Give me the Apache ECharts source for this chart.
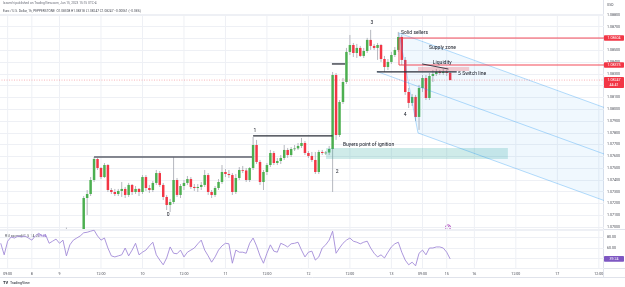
<!DOCTYPE html>
<html>
<head>
<meta charset="utf-8">
<title>EURUSD 1h</title>
<script src="https://cdn.jsdelivr.net/npm/echarts/dist/echarts.min.js"></script>
<style>
  html, body { margin: 0; padding: 0; background: #fff; }
  #chart { width: 625px; height: 287px; }
</style>
</head>
<body>
<div id="chart"></div>
<script>
// hour slots along the time scale (weekend gap removed, like TradingView)
const slotCount = 175;
const timeLabelSlots = [2, 9, 17, 29, 41, 53, 65, 77, 89, 101, 113, 122, 129, 137, 149, 161, 173];
const timeLabels = ['09:00', '8', '9', '12:00', '10', '12:00', '11', '12:00', '12', '12:00', '13', '09:00', '15', '16', '12:00', '17', '12:00'];

// EURUSD 1h candles; the first one sits in slot 19 (older bars are below the visible range)
const firstSlot = 19;
const opens = [
  1.06900, 1.06930, 1.06890, 1.06920, 1.06900,
  1.06932, 1.07246, 1.07280, 1.07399, 1.07577, 1.07501, 1.07424, 1.07526, 1.07314, 1.07297,
  1.07280, 1.07306, 1.07323, 1.07272, 1.07357, 1.07297, 1.07323, 1.07297, 1.07424, 1.07331,
  1.07314, 1.07374, 1.07458, 1.07357, 1.07255, 1.07187, 1.07212, 1.07399, 1.07272, 1.07348,
  1.07374, 1.07407, 1.07340, 1.07331, 1.07340, 1.07357, 1.07441, 1.07297, 1.07272, 1.07331,
  1.07382, 1.07467, 1.07450, 1.07441, 1.07297, 1.07416, 1.07484, 1.07480, 1.07399, 1.07501,
  1.07696, 1.07552, 1.07382, 1.07467, 1.07526, 1.07628, 1.07543, 1.07560, 1.07586, 1.07654,
  1.07611, 1.07662, 1.07667, 1.07688, 1.07713, 1.07628, 1.07603, 1.07569, 1.07467, 1.07637,
  1.07628, 1.07632, 1.07662, 1.08290, 1.07781, 1.08061, 1.08231, 1.08486, 1.08545, 1.08477,
  1.08520, 1.08452, 1.08494, 1.08588, 1.08537, 1.08520, 1.08545, 1.08426, 1.08358, 1.08401,
  1.08460, 1.08503, 1.08613, 1.08418, 1.08146, 1.08053, 1.08104, 1.07934, 1.08180, 1.08265,
  1.08095, 1.08282, 1.08299, 1.08316, 1.08307, 1.08316, 1.08308
];
const highs = [
  1.06995, 1.06950, 1.06940, 1.06960, 1.06960,
  1.07263, 1.07314, 1.07424, 1.07594, 1.07586, 1.07509, 1.07543, 1.07535, 1.07331, 1.07323,
  1.07323, 1.07382, 1.07340, 1.07374, 1.07365, 1.07348, 1.07331, 1.07441, 1.07441, 1.07357,
  1.07390, 1.07484, 1.07475, 1.07374, 1.07272, 1.07238, 1.07594, 1.07416, 1.07365, 1.07399,
  1.07433, 1.07424, 1.07365, 1.07365, 1.07382, 1.07484, 1.07458, 1.07314, 1.07348, 1.07407,
  1.07526, 1.07492, 1.07484, 1.07458, 1.07450, 1.07509, 1.07518, 1.07501, 1.07509, 1.07764,
  1.07739, 1.07569, 1.07484, 1.07543, 1.07654, 1.07645, 1.07586, 1.07611, 1.07696, 1.07671,
  1.07679, 1.07696, 1.07713, 1.07756, 1.07730, 1.07645, 1.07637, 1.07637, 1.07654, 1.07654,
  1.07645, 1.07688, 1.08316, 1.08307, 1.08078, 1.08265, 1.08520, 1.08630, 1.08562, 1.08554,
  1.08537, 1.08520, 1.08605, 1.08673, 1.08554, 1.08562, 1.08554, 1.08452, 1.08426, 1.08486,
  1.08528, 1.08656, 1.08630, 1.08443, 1.08180, 1.08129, 1.08121, 1.08206, 1.08290, 1.08290,
  1.08307, 1.08333, 1.08341, 1.08333, 1.08341, 1.08333, 1.08318
];
const lows = [
  1.06850, 1.06860, 1.06870, 1.06880, 1.06890,
  1.06900, 1.07102, 1.07263, 1.07382, 1.07484, 1.07407, 1.07416, 1.07297, 1.07280, 1.07263,
  1.07263, 1.07255, 1.07246, 1.07255, 1.07272, 1.07280, 1.07263, 1.07280, 1.07306, 1.07289,
  1.07297, 1.07357, 1.07340, 1.07229, 1.07144, 1.07127, 1.07195, 1.07255, 1.07246, 1.07314,
  1.07357, 1.07323, 1.07306, 1.07297, 1.07314, 1.07340, 1.07272, 1.07246, 1.07255, 1.07314,
  1.07365, 1.07424, 1.07416, 1.07272, 1.07280, 1.07399, 1.07458, 1.07382, 1.07382, 1.07484,
  1.07535, 1.07357, 1.07314, 1.07441, 1.07509, 1.07526, 1.07526, 1.07535, 1.07569, 1.07586,
  1.07594, 1.07645, 1.07654, 1.07671, 1.07611, 1.07586, 1.07552, 1.07450, 1.07450, 1.07611,
  1.07611, 1.07611, 1.07297, 1.07739, 1.07764, 1.08044, 1.08214, 1.08460, 1.08443, 1.08435,
  1.08443, 1.08435, 1.08477, 1.08503, 1.08503, 1.08418, 1.08401, 1.08316, 1.08333, 1.08384,
  1.08443, 1.08486, 1.08375, 1.08121, 1.08010, 1.08027, 1.07900, 1.07824, 1.08146, 1.08078,
  1.08078, 1.08231, 1.08282, 1.08290, 1.08290, 1.08282, 1.08247
];
const closes = [
  1.06930, 1.06890, 1.06920, 1.06900, 1.06932,
  1.07246, 1.07280, 1.07399, 1.07577, 1.07501, 1.07424, 1.07526, 1.07314, 1.07297, 1.07280,
  1.07306, 1.07323, 1.07272, 1.07357, 1.07297, 1.07323, 1.07297, 1.07424, 1.07331, 1.07314,
  1.07374, 1.07458, 1.07357, 1.07255, 1.07187, 1.07212, 1.07399, 1.07272, 1.07348, 1.07374,
  1.07407, 1.07340, 1.07331, 1.07340, 1.07357, 1.07441, 1.07297, 1.07272, 1.07331, 1.07382,
  1.07467, 1.07450, 1.07441, 1.07297, 1.07416, 1.07484, 1.07480, 1.07399, 1.07501, 1.07696,
  1.07552, 1.07382, 1.07467, 1.07526, 1.07628, 1.07543, 1.07560, 1.07586, 1.07654, 1.07611,
  1.07662, 1.07667, 1.07688, 1.07713, 1.07628, 1.07603, 1.07569, 1.07467, 1.07637, 1.07628,
  1.07632, 1.07662, 1.08290, 1.07781, 1.08061, 1.08231, 1.08486, 1.08545, 1.08477, 1.08520,
  1.08452, 1.08494, 1.08588, 1.08537, 1.08520, 1.08545, 1.08426, 1.08358, 1.08401, 1.08460,
  1.08503, 1.08613, 1.08418, 1.08146, 1.08053, 1.08104, 1.07934, 1.08180, 1.08265, 1.08095,
  1.08282, 1.08299, 1.08316, 1.08307, 1.08316, 1.08308, 1.08247
];

// RSI, one value per slot starting at slot 0
const rsi = [
  69, 47, 73, 81, 79, 83, 81, 83, 79, 75,
  83, 88, 83, 85, 69, 73, 77, 69, 75, 45,
  66, 75, 79, 83, 89, 90, 92, 94, 83, 75,
  79, 60, 45, 43, 45, 47, 60, 45, 56, 69,
  47, 52, 56, 64, 71, 47, 37, 28, 41, 62,
  50, 49, 56, 43, 52, 56, 60, 68, 75, 56,
  45, 33, 43, 56, 64, 69, 68, 31, 56, 52,
  52, 50, 69, 79, 64, 45, 31, 50, 66, 54,
  52, 69, 66, 62, 68, 69, 71, 56, 43, 52,
  54, 37, 43, 60, 66, 75, 92, 50, 60, 69,
  75, 79, 73, 71, 68, 71, 73, 60, 50, 43,
  47, 41, 52, 62, 68, 71, 52, 37, 28, 33,
  26, 50, 56, 47, 60, 60, 62, 62, 60, 52,
  39.24
];

// drawings on the chart, anchored in (hour slot, price)
const levelLines = [[27, 72.7, 1.07594], [73, 96, 1.07773], [95.8, 99.6, 1.08384], [108.8, 131.9, 1.08316]];
const liquidityLine = [[121.9, 1.08384], [129.5, 1.08341]];
const liquidityBox = [[120.7, 1.08358], [135.5, 1.08324]];
const supplyZone = [115.2, 1.08604, 1.08375];
const ignitionBox = [[94.1, 1.07671], [146.7, 1.07577]];
const pitchfork = [[108.8, 1.0832], [115.2, 1.08647], [120.7, 1.07798]];
const notes = [
  ['0', 48.4, 1.07102, 'center'],
  ['1', 73.5, 1.07815, 'center'],
  ['2', 97.3, 1.07467, 'center'],
  ['3', 107.4, 1.08732, 'center'],
  ['4', 117.0, 1.07951, 'center'],
  ['5 Switch line', 132.3, 1.08299, 'left'],
  ['Solid sellers', 115.8, 1.08647, 'left'],
  ['Supply zone', 123.9, 1.08520, 'left'],
  ['Liquidity', 125.0, 1.08392, 'left'],
  ['Buyers point of ignition', 99.0, 1.07696, 'left']
];

// visible ranges of the two panes
const priceMin = 1.06983, priceMax = 1.08808;
const rsiMin = 21.9, rsiMax = 94.3;

const FONT = 'Roboto, "Liberation Sans", sans-serif';
const UP = '#4caf50', DOWN = '#f23645';

const candleRows = opens.map((o, k) => [firstSlot + k, o, closes[k], lows[k], highs[k]]);
const slotKeys = Array.from({ length: slotCount }, (_, i) => String(i));
const labelBySlot = new Map(timeLabelSlots.map((s, k) => [s, timeLabels[k]]));
const edgeSlot = slotCount - 0.5;

function txt(x, y, text, fill, size, align, extra) {
  return Object.assign({
    type: 'text', x, y,
    style: { text, fill, fontSize: size, fontFamily: FONT, align, textAlign: align, verticalAlign: 'middle', textVerticalAlign: 'middle' }
  }, extra || {});
}

function renderCandle(params, api) {
  const cs = params.coordSys;
  const slot = api.value(0), o = api.value(1), c = api.value(2), l = api.value(3), h = api.value(4);
  if (h < priceMin) return null;
  const clampY = y => Math.max(cs.y, Math.min(cs.y + cs.height, y));
  const x = api.coord([slot, o])[0];
  const bw = api.size([1, 0])[0] * 0.72;
  const kids = [{
    type: 'line',
    shape: { x1: x, y1: clampY(api.coord([slot, h])[1]), x2: x, y2: clampY(api.coord([slot, l])[1]) },
    style: { stroke: '#a3a6af', lineWidth: 0.8 }
  }];
  if (Math.max(o, c) >= priceMin) {
    const y1 = clampY(api.coord([slot, Math.max(o, c)])[1]);
    const y2 = clampY(api.coord([slot, Math.min(o, c)])[1]);
    kids.push({
      type: 'rect',
      shape: { x: x - bw / 2, y: y1, width: bw, height: Math.max(y2 - y1, 0.8) },
      style: { fill: c >= o ? UP : DOWN }
    });
  }
  return { type: 'group', children: kids };
}

function renderVGrid(params, api) {
  const cs = params.coordSys;
  return {
    type: 'group',
    children: timeLabelSlots.map(s => {
      const x = api.coord([s, 0])[0];
      return { type: 'line', shape: { x1: x, y1: cs.y, x2: x, y2: cs.y + cs.height }, style: { stroke: '#eef0f5', lineWidth: 1 } };
    })
  };
}

function renderDrawings(params, api) {
  const cs = params.coordSys;
  const P = (s, p) => api.coord([s, p]);
  const kids = [];
  const line = (a, b, stroke, w, dash) => kids.push({
    type: 'line', shape: { x1: a[0], y1: a[1], x2: b[0], y2: b[1] },
    style: { stroke, lineWidth: w, lineDash: dash || null }
  });
  const box = (a, b, fill) => kids.push({
    type: 'rect',
    shape: { x: Math.min(a[0], b[0]), y: Math.min(a[1], b[1]), width: Math.abs(b[0] - a[0]), height: Math.abs(b[1] - a[1]) },
    style: { fill }
  });

  // buyers point of ignition
  box(P(...ignitionBox[0]), P(...ignitionBox[1]), 'rgba(38,166,154,0.22)');

  // pitchfork
  const [A, B, C] = pitchfork;
  const M = [(B[0] + C[0]) / 2, (B[1] + C[1]) / 2];
  const k = (M[1] - A[1]) / (M[0] - A[0]);
  const ext = q => [edgeSlot, q[1] + k * (edgeSlot - q[0])];
  kids.push({
    type: 'polygon',
    shape: { points: [P(...B), P(...ext(B)), P(...ext(C)), P(...C)] },
    style: { fill: 'rgba(33,150,243,0.065)' }
  });
  const pf = 'rgba(33,150,243,0.42)';
  line(P(...A), P(...ext(A)), pf, 0.8);
  line(P(...B), P(...ext(B)), pf, 0.8);
  line(P(...C), P(...ext(C)), pf, 0.8);
  line(P(...B), P(...C), pf, 0.8);

  // supply zone
  const [sx, sTop, sBot] = supplyZone;
  line(P(sx, sTop), P(edgeSlot, sTop), '#f23645', 0.9);
  line(P(sx, sTop), P(sx, sBot), '#f23645', 0.9);
  line(P(sx, sBot), P(edgeSlot, sBot), 'rgba(242,54,69,0.45)', 2);

  // liquidity
  box(P(...liquidityBox[0]), P(...liquidityBox[1]), 'rgba(242,54,69,0.25)');
  line(P(...liquidityLine[0]), P(...liquidityLine[1]), '#2a2e39', 0.9);

  // horizontal levels
  levelLines.forEach(([s0, s1, p], i) => line(P(s0, p), P(s1, p), i === 0 ? '#5d606b' : '#2a2e39', 1.3));

  // last price line
  const last = closes[closes.length - 1];
  const yLast = P(0, last)[1];
  line([cs.x, yLast], [cs.x + cs.width, yLast], 'rgba(242,54,69,0.55)', 0.7, [1, 1.5]);

  notes.forEach(([t, s, p, align]) => {
    const q = P(s, p);
    kids.push(txt(q[0], q[1], t, '#131722', 5, align));
  });

  // price tags on the scale
  const tag = (price, texts, bg) => {
    const y = P(0, price)[1];
    const x = cs.x + cs.width;
    const h = texts.length === 1 ? 5.6 : 11;
    const top = texts.length === 1 ? y - h / 2 : y - 3;
    kids.push({ type: 'rect', shape: { x: x, y: top, width: 20, height: h, r: 0.8 }, style: { fill: bg } });
    texts.forEach((t, i) => kids.push(txt(x + 10, top + 2.8 + i * 5.2, t, '#fff', 3.6, 'center')));
  };
  tag(sTop, [sTop.toFixed(5)], '#f23645');
  tag(sBot, [sBot.toFixed(5)], '#f23645');
  tag(last, [last.toFixed(5), '44:41'], '#f23645');

  return { type: 'group', children: kids };
}

function renderRsiTag(params, api) {
  const cs = params.coordSys;
  const v = rsi[rsi.length - 1];
  const y = api.coord([0, v])[1];
  const x = cs.x + cs.width;
  return {
    type: 'group',
    children: [
      { type: 'rect', shape: { x: x, y: y - 2.8, width: 20, height: 5.6, r: 0.8 }, style: { fill: '#7e57c2' } },
      txt(x + 10, y, v.toFixed(2), '#fff', 3.6, 'center')
    ]
  };
}

const axisText = { fontSize: 3.6, color: '#4a4d57', fontFamily: FONT };

const chart = echarts.init(document.getElementById('chart'), null, { renderer: 'canvas' });

chart.setOption({
  animation: false,
  backgroundColor: '#fff',
  grid: [
    { left: -1, top: 14, width: 605, height: 215, outerBoundsMode: 'none' },
    { left: -1, top: 230, width: 605, height: 38, outerBoundsMode: 'none' }
  ],
  xAxis: [
    { type: 'value', gridIndex: 0, min: -0.5, max: edgeSlot, show: false },
    {
      type: 'category', gridIndex: 1, data: slotKeys, boundaryGap: true,
      axisLine: { show: false }, axisTick: { show: false }, splitLine: { show: false },
      axisLabel: Object.assign({
        margin: 4,
        interval: index => labelBySlot.has(index),
        formatter: value => labelBySlot.get(Number(value)) || ''
      }, axisText)
    }
  ],
  yAxis: [
    {
      type: 'value', gridIndex: 0, position: 'right', min: priceMin, max: priceMax,
      splitNumber: 18, minInterval: 0.001, maxInterval: 0.001,
      axisLine: { show: false }, axisTick: { show: false },
      splitLine: { lineStyle: { color: '#eef0f5', width: 1 } },
      axisLabel: Object.assign({ margin: 3, showMinLabel: false, showMaxLabel: false, formatter: v => v.toFixed(5) }, axisText)
    },
    {
      type: 'value', gridIndex: 1, position: 'right', min: rsiMin, max: rsiMax,
      splitNumber: 3, minInterval: 20, maxInterval: 20,
      axisLine: { show: false }, axisTick: { show: false },
      splitLine: { lineStyle: { color: '#eef0f5', width: 1 } },
      axisLabel: Object.assign({ margin: 3, showMinLabel: false, showMaxLabel: false, formatter: v => v.toFixed(2) }, axisText)
    }
  ],
  series: [
    { type: 'custom', name: 'vgrid', xAxisIndex: 0, yAxisIndex: 0, z: 1, silent: true, data: [[0, 1.08]], renderItem: renderVGrid },
    { type: 'custom', name: 'vgrid-rsi', xAxisIndex: 1, yAxisIndex: 1, z: 1, silent: true, data: [[0, 50]], renderItem: renderVGrid },
    {
      type: 'custom', name: 'EURUSD', xAxisIndex: 0, yAxisIndex: 0, z: 3, silent: true,
      data: candleRows, encode: { x: 0, y: [1, 2, 3, 4] }, renderItem: renderCandle
    },
    { type: 'custom', name: 'drawings', xAxisIndex: 0, yAxisIndex: 0, z: 4, silent: true, clip: false, data: [[120, 1.08]], renderItem: renderDrawings },
    {
      type: 'line', name: 'RSI', xAxisIndex: 1, yAxisIndex: 1, z: 3, silent: true,
      data: rsi, showSymbol: false, lineStyle: { color: '#a38bd8', width: 0.9 }
    },
    { type: 'custom', name: 'rsi-tag', xAxisIndex: 1, yAxisIndex: 1, z: 5, silent: true, clip: false, data: [[0, 50]], renderItem: renderRsiTag }
  ],
  graphic: [
    { type: 'line', shape: { x1: 603.5, y1: 0, x2: 603.5, y2: 278 }, style: { stroke: '#e0e3eb', lineWidth: 1 } },
    { type: 'line', shape: { x1: 0, y1: 229.5, x2: 625, y2: 229.5 }, style: { stroke: '#e0e3eb', lineWidth: 1 } },
    { type: 'line', shape: { x1: 0, y1: 268.5, x2: 625, y2: 268.5 }, style: { stroke: '#e0e3eb', lineWidth: 1 } },
    { type: 'line', shape: { x1: 0, y1: 277.5, x2: 625, y2: 277.5 }, style: { stroke: '#e0e3eb', lineWidth: 1 } },
    { type: 'text', left: 3, top: 1.8, style: { text: 'Izzamfri published on TradingView.com, Jun 15, 2023 15:15 UTC-4', fill: '#6a6d78', fontSize: 3.2, fontFamily: FONT } },
    { type: 'text', left: 3, top: 9.2, style: { text: 'Euro / U.S. Dollar, 1h, PEPPERSTONE  O1.08308 H1.08318 L1.08247 C1.08247 \u22120.00061 (\u22120.06%)', fill: '#4a4d57', fontSize: 3.2, fontFamily: FONT } },
    { type: 'text', left: 607, top: 3.2, style: { text: 'USD', fill: '#4a4d57', fontSize: 3.4, fontFamily: FONT } },
    { type: 'text', left: 5, top: 234.2, style: { text: 'RSI pa mod(C, 5, 14, 2)', fill: '#4a4d57', fontSize: 3.4, fontFamily: FONT } },
    { type: 'text', left: 38, top: 234.2, style: { text: '39.24', fill: '#7e57c2', fontSize: 3.4, fontFamily: FONT } },
    { type: 'circle', shape: { cx: 448, cy: 227.3, r: 2.5 }, style: { fill: '#fff', stroke: '#9c27b0', lineWidth: 0.8 } },
    { type: 'line', shape: { x1: 447, y1: 228.6, x2: 449, y2: 226 }, style: { stroke: '#9c27b0', lineWidth: 0.7 } },
    { type: 'text', left: 3, top: 280.6, style: { text: 'TV', fill: '#131722', fontSize: 4, fontWeight: 'bold', fontFamily: FONT } },
    { type: 'text', left: 10, top: 280.9, style: { text: 'TradingView', fill: '#131722', fontSize: 3.6, fontFamily: FONT } }
  ]
});
</script>
</body>
</html>
